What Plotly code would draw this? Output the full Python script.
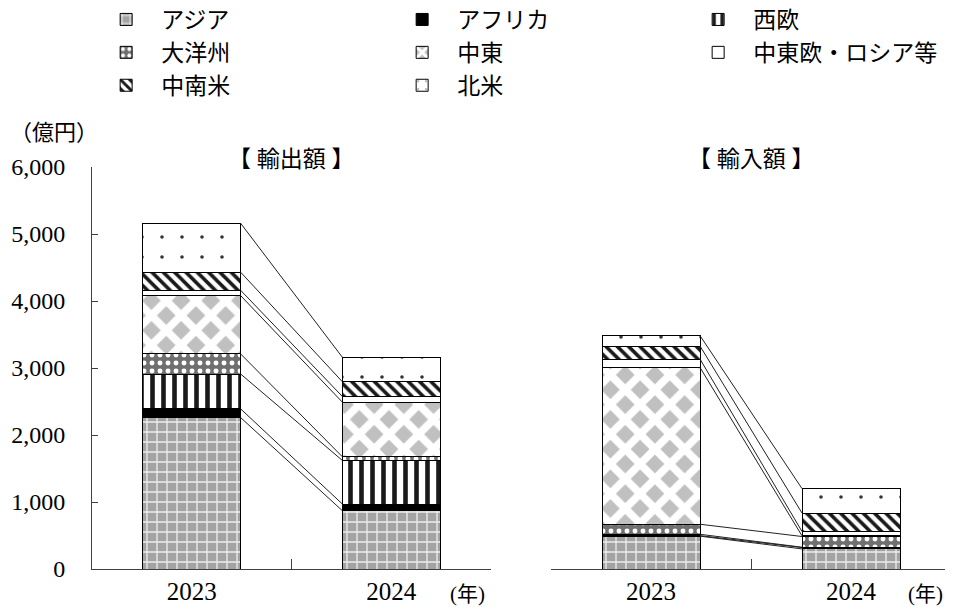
import plotly.graph_objects as go

years = ["2023", "2024"]
regions = ["アジア", "アフリカ", "西欧", "大洋州", "中東", "中東欧・ロシア等", "中南米", "北米"]
export_2023 = [2260, 130, 520, 300, 870, 80, 270, 730]
export_2024 = [870, 100, 650, 55, 815, 85, 220, 365]
import_2023 = [490, 8, 20, 150, 2340, 125, 195, 155]
import_2024 = [300, 20, 5, 160, 10, 65, 275, 365]
y_ticks = [0, 1000, 2000, 3000, 4000, 5000, 6000]

SERIF = "Liberation Serif, Noto Sans CJK JP"

patterns = {
    "アジア": dict(shape="+", bgcolor="#a3a3a3", fgcolor="#ececec", size=10, solidity=0.25),
    "アフリカ": dict(shape="", bgcolor="black"),
    "西欧": dict(shape="|", bgcolor="white", fgcolor="#1a1a1a", size=11, solidity=0.42),
    "大洋州": dict(shape=".", bgcolor="#707070", fgcolor="white", size=8, solidity=0.3),
    "中東": dict(shape="x", bgcolor="#c0c0c0", fgcolor="white", size=21, solidity=0.6),
    "中東欧・ロシア等": dict(shape="", bgcolor="white"),
    "中南米": dict(shape="\\", bgcolor="white", fgcolor="#1a1a1a", size=8, solidity=0.45),
    "北米": dict(shape=".", bgcolor="white", fgcolor="#333333", size=20, solidity=0.025),
}

BAR_W = 0.49
fig = go.Figure()

for i, r in enumerate(regions):
    p = patterns[r]
    color = p["bgcolor"]
    pat = dict(p)
    pat.pop("bgcolor")
    if pat.get("shape"):
        pat["bgcolor"] = p["bgcolor"]
        pat["fillmode"] = "replace"
    fig.add_trace(go.Bar(
        x=years, y=[export_2023[i], export_2024[i]], name=r, legendgroup=r,
        width=BAR_W, xaxis="x", yaxis="y",
        marker=dict(color=color, pattern=pat, line=dict(color="black", width=1)),
        hoverinfo="skip",
    ))
    fig.add_trace(go.Bar(
        x=years, y=[import_2023[i], import_2024[i]], name=r, legendgroup=r,
        width=BAR_W, xaxis="x2", yaxis="y2", showlegend=False,
        marker=dict(color=color, pattern=pat, line=dict(color="black", width=1)),
        hoverinfo="skip",
    ))

# series connector lines
def cumsum(v):
    out, s = [], 0
    for x in v:
        s += x
        out.append(s)
    return out

shapes = []
for a, b, xr, yr in [(export_2023, export_2024, "x", "y"), (import_2023, import_2024, "x2", "y2")]:
    ca, cb = cumsum(a), cumsum(b)
    for va, vb in zip(ca, cb):
        shapes.append(dict(type="line", xref=xr, yref=yr,
                           x0=0 + BAR_W / 2, y0=va, x1=1 - BAR_W / 2, y1=vb,
                           line=dict(color="#222222", width=1)))

# page body has an 8px margin, so the figure is offset by (8, 8)
OFF = 8
W, H = 953 - OFF, 609 - OFF
L, R, T = 92 - OFF, 2, 167 - OFF
B = H - (569 - OFF)
pw = W - L - R
ph = H - T - B
x1_end = (491 - OFF - L) / pw
x2_start = (551 - OFF - L) / pw

axis_common = dict(
    type="category", tickson="boundaries", ticks="inside", ticklen=10,
    tickcolor="#404040", showline=True, linecolor="#404040", linewidth=1,
    showgrid=False, tickfont=dict(family=SERIF, size=25, color="black"),
    range=[-0.5, 1.5], fixedrange=True, automargin=False,
)

fig.update_layout(
    width=W, height=H,
    margin=dict(l=L, r=R, t=T, b=B, autoexpand=False),
    paper_bgcolor="white", plot_bgcolor="white",
    barmode="stack",
    xaxis=dict(domain=[0, x1_end], anchor="y", **axis_common),
    xaxis2=dict(domain=[x2_start, 1], anchor="y2", **axis_common),
    yaxis=dict(range=[0, 6000], tickvals=y_ticks, tickformat=",", ticks="inside",
               ticklen=6, tickcolor="#404040", showline=True, linecolor="#404040",
               linewidth=1, showgrid=False, zeroline=False, automargin=False,
               tickfont=dict(family=SERIF, size=24, color="black"),
               ticklabelstandoff=21, anchor="x"),
    yaxis2=dict(range=[0, 6000], showticklabels=False, showline=False, ticks="",
                showgrid=False, zeroline=False, anchor="x2", automargin=False),
    shapes=shapes,
    showlegend=True,
    legend=dict(orientation="h", traceorder="normal",
                xref="paper", yref="paper", x=-0.001, y=1 + (T + 10) / ph,
                xanchor="left", yanchor="top",
                itemwidth=60, entrywidth=221, entrywidthmode="pixels",
                font=dict(family=SERIF, size=23, color="black"),
                bgcolor="rgba(0,0,0,0)", itemclick=False),
    annotations=[
        dict(text="（億円）", xref="paper", yref="paper", x=-L / pw, y=1 + (167 - 132) / ph,
             xanchor="left", yanchor="middle", showarrow=False,
             font=dict(family=SERIF, size=22, color="black")),
        dict(text="【 輸出額 】", xref="x domain", yref="paper", x=0.5, y=1 + 7 / ph,
             xanchor="center", yanchor="middle", showarrow=False,
             font=dict(family=SERIF, size=23, color="black")),
        dict(text="【 輸入額 】", xref="x2 domain", yref="paper", x=0.5, y=1 + 7 / ph,
             xanchor="center", yanchor="middle", showarrow=False,
             font=dict(family=SERIF, size=23, color="black")),
        dict(text="(年)", xref="x domain", yref="paper", x=0.942, y=-25 / ph,
             xanchor="center", yanchor="middle", showarrow=False,
             font=dict(family=SERIF, size=21, color="black")),
        dict(text="(年)", xref="x2 domain", yref="paper", x=0.935, y=-25 / ph,
             xanchor="center", yanchor="middle", showarrow=False,
             font=dict(family=SERIF, size=21, color="black")),
    ],
)

fig.write_html("out.html")
